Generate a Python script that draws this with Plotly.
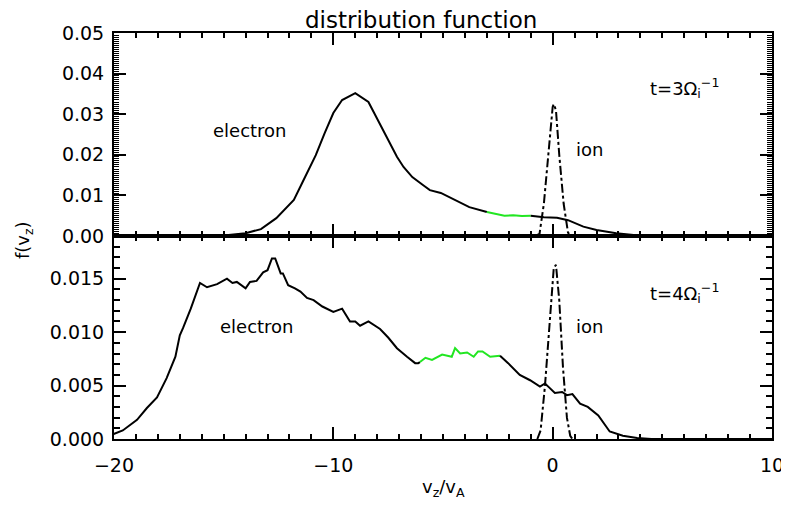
import plotly.graph_objects as go

# ---------------- data ----------------
# top panel, t = 3 / Omega_i
top_e1_x = [-20, -17, -15, -14, -13.3, -12.6, -11.8, -11.4, -10.8, -10.4, -10.0, -9.6, -9.0,
            -8.4, -7.9, -7.4, -7.1, -6.8, -6.4, -5.9, -5.6, -5.1, -4.5, -3.8, -3.0]
top_e1_y = [0, 0, 0.0001, 0.0007, 0.0017, 0.0044, 0.0089, 0.0133, 0.0199, 0.0253, 0.0303, 0.0335, 0.0352,
            0.0330, 0.0278, 0.0229, 0.0195, 0.0170, 0.0145, 0.0125, 0.0113, 0.0106, 0.0089, 0.0071, 0.0059]
top_g_x = [-3.0, -2.6, -2.2, -1.8, -1.4, -1.0]
top_g_y = [0.0059, 0.0054, 0.0050, 0.0051, 0.0049, 0.0050]
top_e2_x = [-1.0, -0.4, 0.2, 0.7, 1.4, 2.0, 2.9, 3.8, 4.5, 10]
top_e2_y = [0.0050, 0.0046, 0.0045, 0.0039, 0.0023, 0.0015, 0.0007, 0.0002, 0, 0]
top_ion_x = [-0.8, -0.6, -0.4, -0.2, 0.0, 0.05, 0.15, 0.3, 0.5, 0.7, 0.9]
top_ion_y = [0, 0.0005, 0.008, 0.020, 0.0318, 0.0325, 0.031, 0.020, 0.008, 0.0008, 0]

# bottom panel, t = 4 / Omega_i
bot_e1_x = [-20.1, -19.6, -18.95, -18.5, -18.04, -17.6, -17.2, -17.0, -16.85, -16.5, -16.08, -15.76,
            -15.3, -14.85, -14.6, -14.4, -14.0, -13.8, -13.5, -13.2, -13.0, -12.8, -12.65, -12.4,
            -12.3, -12.06, -11.75, -11.5, -11.2, -10.9, -10.5, -10.0, -9.6, -9.24, -9.0, -8.78,
            -8.4, -8.24, -7.87, -7.5, -7.1, -6.64, -6.27, -6.13, -6.05]
bot_e1_y = [0.0004, 0.0008, 0.0018, 0.0029, 0.0039, 0.0057, 0.0077, 0.0097, 0.0104, 0.0122, 0.0146, 0.0142,
            0.0145, 0.0150, 0.0146, 0.0147, 0.0141, 0.0147, 0.0148, 0.0156, 0.0158, 0.0169, 0.0169, 0.0155,
            0.0155, 0.0144, 0.0141, 0.0138, 0.0132, 0.0130, 0.0124, 0.0119, 0.0122, 0.0110, 0.0110, 0.0106,
            0.0110, 0.0108, 0.0103, 0.0095, 0.0085, 0.0077, 0.0071, 0.0071, 0.0072]
bot_g_x = [-6.05, -5.8, -5.5, -5.04, -4.6, -4.45, -4.22, -3.9, -3.6, -3.4, -3.2, -2.85, -2.4]
bot_g_y = [0.0072, 0.0076, 0.0074, 0.0079, 0.0077, 0.0085, 0.0080, 0.0081, 0.0077, 0.0082, 0.0082, 0.0077, 0.0078]
bot_e2_x = [-2.4, -2.03, -1.5, -1.03, -0.58, -0.35, -0.2, 0.1, 0.43, 0.65, 0.9, 1.25, 1.6, 2.08,
            2.6, 3.2, 3.85, 4.5, 10]
bot_e2_y = [0.0078, 0.0071, 0.0060, 0.0055, 0.0049, 0.0052, 0.0049, 0.0043, 0.0044, 0.0041, 0.0042,
            0.0033, 0.0030, 0.0022, 0.0007, 0.0003, 0.0001, 0, 0]
bot_ion_x = [-0.7, -0.55, -0.35, -0.1, 0.05, 0.15, 0.3, 0.47, 0.65, 0.8, 0.9]
bot_ion_y = [0, 0.0008, 0.0050, 0.0114, 0.0160, 0.0163, 0.0130, 0.0067, 0.0020, 0.0003, 0]

x_range = [-20, 10]
x_ticks = [-20, -10, 0, 10]
x_labels = ["−20", "−10", "0", "10"]
top_y_ticks = [0.00, 0.01, 0.02, 0.03, 0.04, 0.05]
top_y_labels = ["0.00", "0.01", "0.02", "0.03", "0.04", "0.05"]
bot_y_ticks = [0.000, 0.005, 0.010, 0.015]
bot_y_labels = ["0.000", "0.005", "0.010", "0.015"]

# ---------------- figure ----------------
FONT = "DejaVu Sans"
BLACK = "black"
GREEN = "#22e622"
LW = 2

fig = go.Figure()

def line(x, y, color, xa, ya, dash="solid"):
    fig.add_trace(go.Scatter(x=x, y=y, mode="lines", xaxis=xa, yaxis=ya,
                             line=dict(color=color, width=LW, dash=dash),
                             showlegend=False, hoverinfo="skip"))

line(top_e1_x, top_e1_y, BLACK, "x2", "y2")
line(top_g_x, top_g_y, GREEN, "x2", "y2")
line(top_e2_x, top_e2_y, BLACK, "x2", "y2")
line(top_ion_x, top_ion_y, BLACK, "x2", "y2", dash="dashdot")

line(bot_e1_x, bot_e1_y, BLACK, "x", "y")
line(bot_g_x, bot_g_y, GREEN, "x", "y")
line(bot_e2_x, bot_e2_y, BLACK, "x", "y")
line(bot_ion_x, bot_ion_y, BLACK, "x", "y", dash="dashdot")

axis_common = dict(showline=True, linecolor=BLACK, linewidth=2, mirror="ticks",
                   ticks="inside", tickcolor=BLACK, tickwidth=1.5, ticklen=12,
                   showgrid=False, zeroline=False, automargin=False,
                   tickfont=dict(family=FONT, size=19, color=BLACK))

# the page body adds an 8px margin, so the figure is 8px smaller than the window
fig.update_layout(
    width=781, height=500,
    margin=dict(l=106, r=17, t=25, b=69),
    paper_bgcolor="white", plot_bgcolor="white",
    font=dict(family=FONT, color=BLACK),
    title=dict(text="distribution function", x=0.529, xanchor="center",
               yref="container", y=0.992, yanchor="top", pad=dict(t=0, b=0),
               font=dict(family=FONT, size=23, color=BLACK)),
    xaxis=dict(domain=[0, 1], anchor="y", range=x_range, tickvals=x_ticks,
               ticktext=x_labels, ticklabelstandoff=8,
               minor=dict(ticks="inside", dtick=1, ticklen=5, tickcolor=BLACK, tickwidth=1.5),
               **axis_common),
    yaxis=dict(domain=[0, 0.5], anchor="x", range=[0, 0.019], tickvals=bot_y_ticks,
               ticktext=bot_y_labels, ticklabelstandoff=4,
               minor=dict(ticks="inside", dtick=0.001, ticklen=6, tickcolor=BLACK, tickwidth=1.5),
               **axis_common),
    xaxis2=dict(domain=[0, 1], anchor="y2", range=x_range, tickvals=x_ticks,
                showticklabels=False,
                minor=dict(ticks="inside", dtick=1, ticklen=5, tickcolor=BLACK, tickwidth=1.5),
                **axis_common),
    yaxis2=dict(domain=[0.5, 1], anchor="x2", range=[0, 0.05], tickvals=top_y_ticks,
                ticktext=top_y_labels, ticklabelstandoff=4,
                minor=dict(ticks="inside", dtick=0.0005, ticklen=5, tickcolor=BLACK, tickwidth=1),
                **axis_common),
)

ann_font = dict(family=FONT, size=18, color=BLACK)
annotations = [
    dict(x=-13.8, y=0.0261, xref="x2", yref="y2", text="electron", showarrow=False, font=ann_font),
    dict(x=1.7, y=0.0212, xref="x2", yref="y2", text="ion", showarrow=False, font=ann_font),
    dict(x=4.35, y=0.0364, xref="x2", yref="y2", text="t=3Ω<sub>i</sub><sup>−1</sup>",
         xanchor="left", showarrow=False, font=ann_font),
    dict(x=-13.5, y=0.0105, xref="x", yref="y", text="electron", showarrow=False, font=ann_font),
    dict(x=1.7, y=0.0105, xref="x", yref="y", text="ion", showarrow=False, font=ann_font),
    dict(x=4.35, y=0.0137, xref="x", yref="y", text="t=4Ω<sub>i</sub><sup>−1</sup>",
         xanchor="left", showarrow=False, font=ann_font),
    dict(x=-0.158, y=0.49, xref="paper", yref="paper", text="f(v<sub>z</sub>)", textangle=-90,
         showarrow=False, font=dict(family=FONT, size=18, color=BLACK)),
    dict(x=0.501, y=-0.156, xref="paper", yref="paper", text="v<sub>z</sub>/v<sub>A</sub>",
         showarrow=False, font=dict(family=FONT, size=18, color=BLACK)),
]
fig.update_layout(annotations=annotations)

fig.write_html("out.html")
